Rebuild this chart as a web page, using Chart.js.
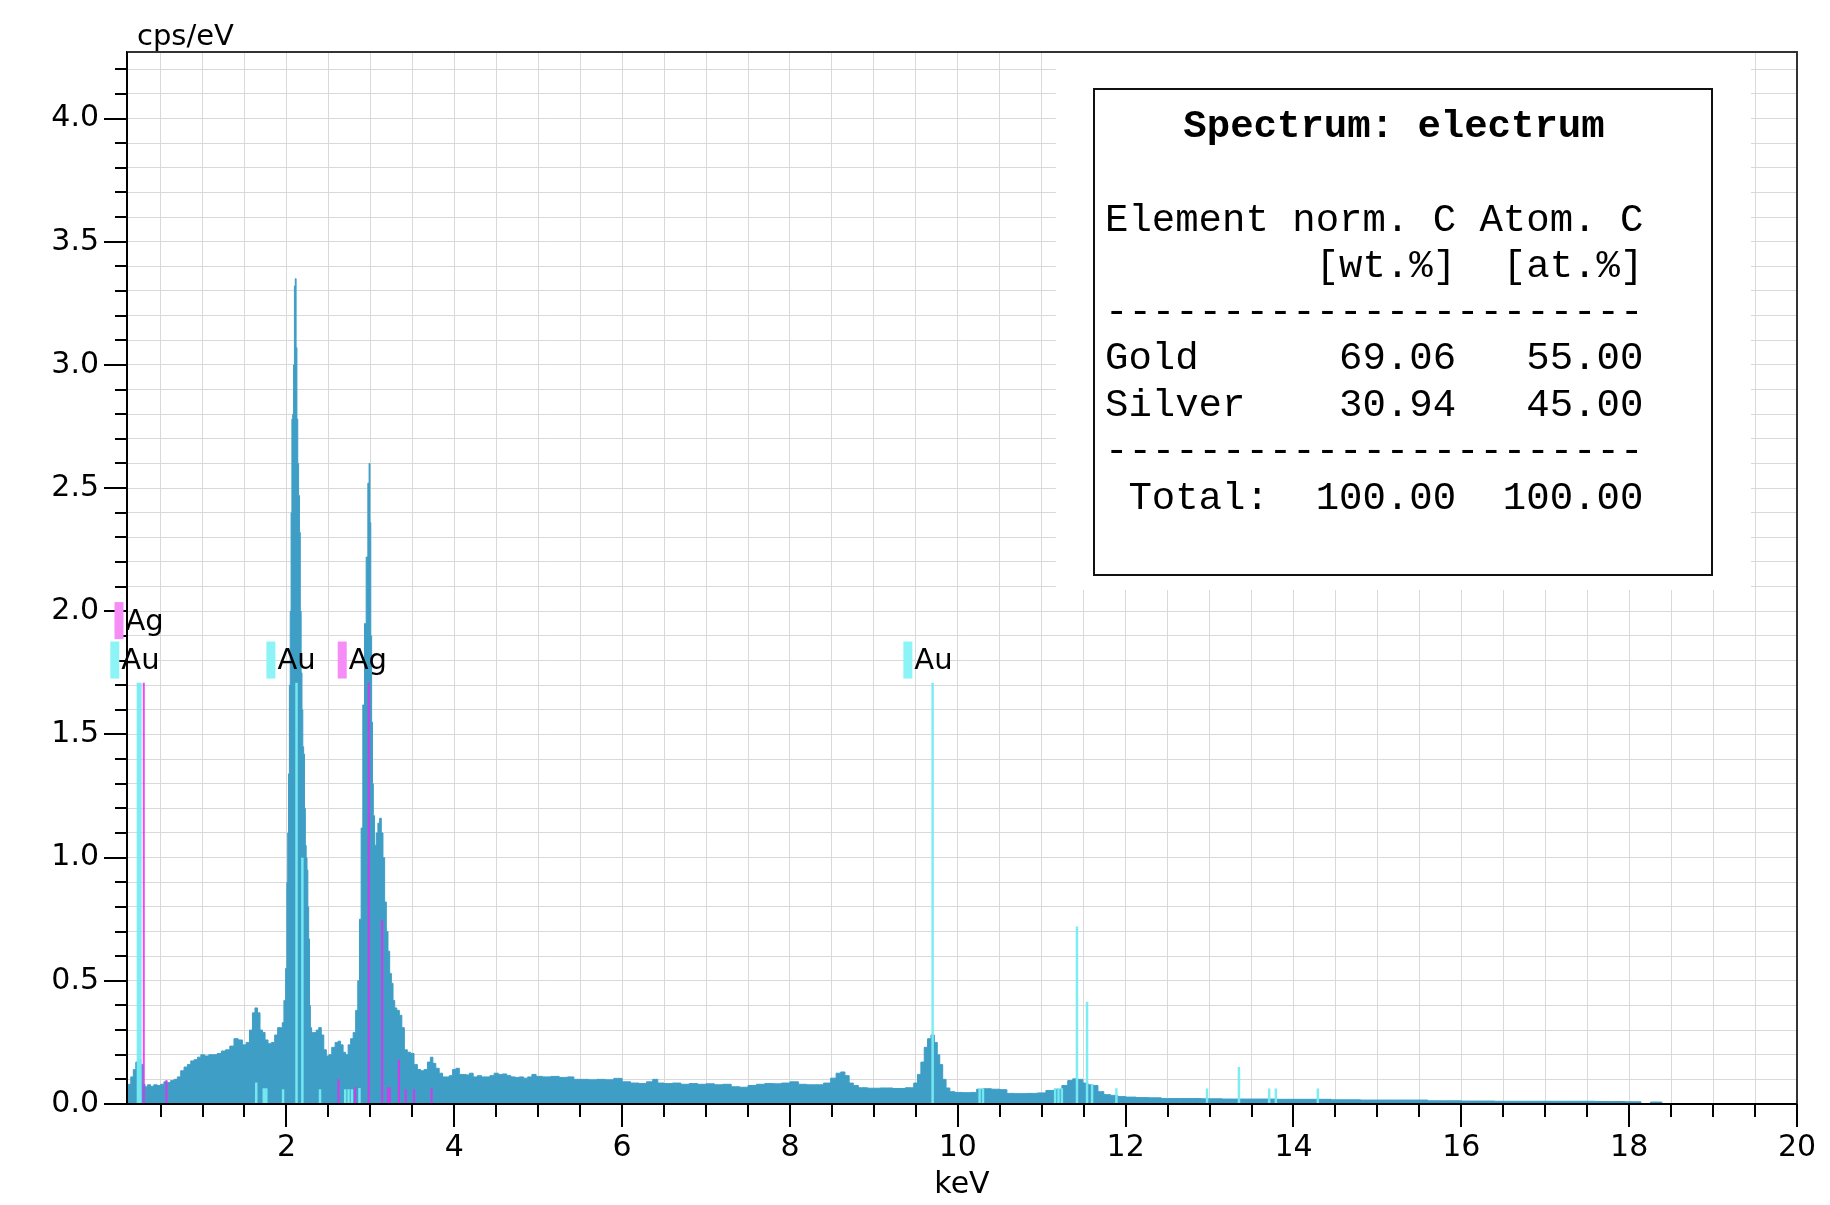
<!DOCTYPE html>
<html>
<head>
<meta charset="utf-8">
<script src="https://cdn.jsdelivr.net/npm/chart.js@4.4.1/dist/chart.umd.min.js"></script>
<style>
html,body{margin:0;padding:0;background:#ffffff;}
canvas{display:block;}
</style>
</head>
<body>
<canvas id="chart" width="1830" height="1205"></canvas>
<script>
// ---------------- DATA ----------------
const energyKeV = [
 0.10,0.13,0.16,0.19,0.22,0.25,0.28,0.30,0.33,0.36,0.40,0.44,0.48,0.52,0.56,0.60,0.64,0.68,0.72,0.76,
 0.80,0.84,0.88,0.92,0.96,1.00,1.05,1.10,1.15,1.20,1.25,1.30,1.35,1.40,1.45,1.50,1.54,1.58,1.61,1.64,
 1.67,1.70,1.73,1.76,1.80,1.84,1.88,1.91,1.94,1.96,1.98,2.00,2.01,2.02,2.03,2.04,2.05,2.06,2.07,2.08,
 2.09,2.10,2.11,2.12,2.13,2.14,2.15,2.16,2.17,2.18,2.19,2.20,2.21,2.22,2.23,2.24,2.25,2.26,2.27,2.28,
 2.29,2.31,2.34,2.37,2.40,2.43,2.46,2.49,2.52,2.56,2.60,2.63,2.66,2.69,2.72,2.75,2.78,2.81,2.84,2.86,
 2.88,2.90,2.92,2.94,2.96,2.98,2.99,3.00,3.01,3.02,3.03,3.04,3.06,3.08,3.10,3.12,3.14,3.16,3.18,3.20,
 3.22,3.24,3.26,3.28,3.30,3.33,3.36,3.39,3.42,3.46,3.50,3.54,3.58,3.62,3.66,3.70,3.73,3.76,3.80,3.84,
 3.88,3.92,3.96,4.00,4.04,4.08,4.12,4.16,4.20,4.25,4.30,4.35,4.40,4.45,4.50,4.55,4.60,4.65,4.70,4.75,
 4.80,4.85,4.90,4.95,5.00,5.10,5.20,5.30,5.40,5.45,5.55,5.65,5.75,5.85,5.95,6.05,6.15,6.25,6.33,6.40,
 6.45,6.55,6.65,6.75,6.85,6.95,7.05,7.15,7.25,7.35,7.45,7.55,7.65,7.75,7.85,7.95,8.05,8.15,8.25,8.35,
 8.45,8.52,8.58,8.63,8.68,8.73,8.78,8.85,9.00,9.15,9.30,9.45,9.50,9.54,9.58,9.62,9.66,9.70,9.74,9.77,
 9.80,9.84,9.88,9.93,10.00,10.10,10.20,10.25,10.35,10.45,10.55,10.62,10.75,10.90,11.00,11.10,11.20,11.28,11.34,11.40,
 11.46,11.52,11.58,11.64,11.70,11.78,11.86,11.95,12.05,12.20,12.35,12.50,12.80,13.00,13.30,13.60,14.00,14.30,14.60,15.00,
 15.40,15.80,16.20,16.60,17.00,17.40,17.80,18.10,18.18,18.33,18.37,18.41
];
const countsCps = [
 0.075,0.080,0.110,0.140,0.170,0.180,0.160,0.080,0.070,0.078,0.072,0.078,0.075,0.080,0.090,0.087,0.095,0.100,0.110,0.135,
 0.150,0.160,0.175,0.180,0.190,0.200,0.195,0.200,0.200,0.205,0.215,0.220,0.235,0.265,0.260,0.240,0.250,0.300,0.370,0.390,
 0.370,0.300,0.290,0.260,0.245,0.250,0.280,0.310,0.310,0.330,0.420,0.550,0.900,1.100,1.340,1.700,2.000,2.400,2.780,2.800,
 3.000,3.320,3.350,3.070,2.780,2.600,2.470,2.320,2.000,1.750,1.600,1.450,1.420,1.200,1.050,1.000,0.950,0.800,0.670,0.400,
 0.310,0.290,0.290,0.300,0.310,0.280,0.220,0.195,0.200,0.230,0.250,0.255,0.240,0.210,0.200,0.240,0.265,0.290,0.380,0.500,
 0.750,1.120,1.620,1.950,2.220,2.520,2.600,2.360,1.900,1.550,1.300,1.170,1.050,1.100,1.140,1.160,1.100,1.000,0.820,0.700,
 0.620,0.530,0.490,0.420,0.390,0.380,0.360,0.310,0.220,0.210,0.205,0.160,0.140,0.135,0.140,0.170,0.190,0.165,0.145,0.125,
 0.110,0.110,0.115,0.140,0.145,0.120,0.120,0.118,0.125,0.110,0.115,0.110,0.110,0.115,0.125,0.120,0.122,0.115,0.110,0.108,
 0.110,0.105,0.110,0.120,0.112,0.110,0.112,0.108,0.110,0.100,0.100,0.098,0.100,0.098,0.104,0.090,0.085,0.083,0.090,0.100,
 0.085,0.083,0.085,0.080,0.083,0.080,0.082,0.078,0.080,0.070,0.068,0.075,0.080,0.083,0.082,0.085,0.090,0.080,0.078,0.078,
 0.085,0.105,0.125,0.130,0.115,0.085,0.075,0.066,0.064,0.065,0.063,0.066,0.085,0.120,0.170,0.230,0.265,0.280,0.250,0.200,
 0.160,0.100,0.065,0.050,0.047,0.046,0.047,0.060,0.062,0.060,0.058,0.043,0.042,0.043,0.045,0.055,0.060,0.075,0.095,0.102,
 0.100,0.085,0.078,0.075,0.050,0.038,0.035,0.030,0.028,0.026,0.025,0.022,0.022,0.021,0.020,0.020,0.019,0.019,0.017,0.016,
 0.016,0.013,0.012,0.011,0.011,0.011,0.010,0.009,0.000,0.008,0.008,0.000
];

// element line markers (vertical lines)
const auLineKeV = [2.12, 9.70, 1.64, 1.73, 1.76, 1.96, 2.19, 2.40, 2.70, 2.74, 2.78, 2.87, 10.26, 10.30, 11.16, 11.20, 11.24, 11.42, 11.54, 11.60, 11.89, 12.97, 13.35, 13.71, 13.79, 14.29];
const auLineCps = [1.71, 1.71, 0.087, 0.064, 0.064, 0.060, 1.00, 0.060, 0.060, 0.060, 0.060, 0.065, 0.064, 0.064, 0.064, 0.064, 0.064, 0.720, 0.415, 0.080, 0.064, 0.063, 0.150, 0.063, 0.063, 0.063];
const agLineKeV = [0.30, 2.98, 0.57, 2.62, 2.82, 3.14, 3.21, 3.23, 3.34, 3.42, 3.52, 3.73];
const agLineCps = [1.71, 1.71, 0.097, 0.100, 0.068, 0.746, 0.068, 0.068, 0.180, 0.060, 0.060, 0.064];
const auLowLineKeV = [0.245];
const auLowLineCps = [1.71];

// element labels
const markerElements = ['Ag', 'Au', 'Au', 'Ag', 'Au'];
const markerKeV      = [0.31, 0.26, 2.12, 2.97, 9.71];
const markerLevel    = [1.96, 1.80, 1.80, 1.80, 1.80];

// axis tick labels
const xLabelValues = [2, 4, 6, 8, 10, 12, 14, 16, 18, 20];
const xTickLabels  = ['2', '4', '6', '8', '10', '12', '14', '16', '18', '20'];
const yLabelValues = [0, 0.5, 1.0, 1.5, 2.0, 2.5, 3.0, 3.5, 4.0];
const yTickLabels  = ['0.0', '0.5', '1.0', '1.5', '2.0', '2.5', '3.0', '3.5', '4.0'];

// result table
const tableTitle = 'Spectrum: electrum';
const tableLines = [
  'Element norm. C Atom. C',
  '         [wt.%]  [at.%]',
  '-----------------------',
  'Gold      69.06   55.00',
  'Silver    30.94   45.00',
  '-----------------------',
  ' Total:  100.00  100.00'
];

// ---------------- BUILD ----------------
const xTickValues = [];
for (let i = 1; i <= 40; i++) xTickValues.push(i / 2);
const yTickValues = [];
for (let i = 0; i <= 42; i++) yTickValues.push(i / 10);
const near = (a, b) => Math.abs(a - b) < 1e-6;

const spectrum = energyKeV.map((e, i) => ({ x: e, y: countsCps[i] }));
function segments(es, hs) {
  const out = [];
  es.forEach((e, i) => { out.push({ x: e, y: 0 }, { x: e, y: hs[i] }, { x: e, y: null }); });
  return out;
}

const STYLE = {
  fill: '#3e9ec6',
  cyan: 'rgba(118,236,242,0.95)',
  magenta: 'rgba(238,40,238,0.85)',
  cyanBox: 'rgb(140,244,246)',
  magentaBox: 'rgb(246,140,246)',
  grid: '#d9d9d9'
};

const overlay = {
  id: 'overlay',
  beforeDatasetsDraw(chart) {
    const { ctx } = chart;
    ctx.save();
    ctx.fillStyle = '#ffffff';
    ctx.fillRect(1056, chart.chartArea.top + 1, 695, 537);
    ctx.restore();
  },
  afterDraw(chart) {
    const { ctx, chartArea: a, scales: { x, y } } = chart;
    ctx.save();
    // frame
    ctx.lineWidth = 2;
    ctx.strokeStyle = '#333333';
    ctx.beginPath();
    ctx.moveTo(a.left, a.top); ctx.lineTo(a.right, a.top); ctx.lineTo(a.right, a.bottom);
    ctx.stroke();
    ctx.strokeStyle = '#000000';
    ctx.beginPath();
    ctx.moveTo(a.left, a.top); ctx.lineTo(a.left, a.bottom); ctx.lineTo(a.right, a.bottom);
    ctx.stroke();
    // tick marks
    ctx.lineWidth = 2;
    ctx.beginPath();
    xTickValues.forEach(v => {
      const px = Math.round(x.getPixelForValue(v));
      const len = xLabelValues.some(l => near(l, v)) ? 23 : 13;
      ctx.moveTo(px, a.bottom); ctx.lineTo(px, a.bottom + len);
    });
    yTickValues.forEach(v => {
      const py = Math.round(y.getPixelForValue(v));
      const len = yLabelValues.some(l => near(l, v)) ? 23 : 12;
      ctx.moveTo(a.left - len, py); ctx.lineTo(a.left, py);
    });
    ctx.stroke();

    // element labels
    ctx.font = '29px "DejaVu Sans"';
    ctx.textBaseline = 'middle';
    ctx.textAlign = 'left';
    markerElements.forEach((el, i) => {
      const cx = x.getPixelForValue(markerKeV[i]);
      const cy = y.getPixelForValue(markerLevel[i]);
      const w = ctx.measureText(el).width;
      const tl = cx - w / 2;
      ctx.fillStyle = el === 'Au' ? STYLE.cyanBox : STYLE.magentaBox;
      ctx.fillRect(tl - 11, cy - 19, 9, 37);
      ctx.fillStyle = '#000000';
      ctx.fillText(el, tl, cy + 1);
    });

    // unit label
    ctx.font = '29px "DejaVu Sans"';
    ctx.textBaseline = 'alphabetic';
    ctx.fillStyle = '#000000';
    ctx.fillText('cps/eV', 137, 45);

    // result table
    ctx.fillStyle = '#ffffff';
    ctx.fillRect(1094, 89, 618, 486);
    ctx.strokeStyle = '#111111';
    ctx.lineWidth = 2;
    ctx.strokeRect(1094, 89, 618, 486);
    ctx.fillStyle = '#000000';
    ctx.textBaseline = 'middle';
    ctx.textAlign = 'center';
    ctx.font = 'bold 39px "Liberation Mono"';
    ctx.fillText(tableTitle, 1394, 127);
    ctx.textAlign = 'left';
    ctx.font = '39px "Liberation Mono"';
    const rowY = [221, 267, 313, 359, 406, 452, 499];
    tableLines.forEach((t, i) => ctx.fillText(t, 1105, rowY[i]));
    ctx.restore();
  }
};

Chart.defaults.font.family = '"DejaVu Sans"';
Chart.defaults.color = '#000000';

new Chart(document.getElementById('chart'), {
  type: 'scatter',
  data: {
    datasets: [
      { label: 'Au lines', data: segments(auLineKeV, auLineCps), showLine: true, borderColor: STYLE.cyan, borderWidth: 2.5, pointRadius: 0, order: 1, spanGaps: false },
      { label: 'Au low', data: segments(auLowLineKeV, auLowLineCps), showLine: true, borderColor: STYLE.cyan, borderWidth: 5, pointRadius: 0, order: 1, spanGaps: false },
      { label: 'Ag lines', data: segments(agLineKeV, agLineCps), showLine: true, borderColor: STYLE.magenta, borderWidth: 2, pointRadius: 0, order: 0, spanGaps: false },
      { label: 'spectrum', data: spectrum, showLine: true, stepped: 'middle', fill: 'origin', backgroundColor: STYLE.fill, borderColor: STYLE.fill, borderWidth: 1, pointRadius: 0, order: 5 }
    ]
  },
  options: {
    responsive: false,
    devicePixelRatio: 1,
    animation: false,
    layout: { padding: { top: 52, right: 33, left: 0, bottom: 0 } },
    plugins: { legend: { display: false }, tooltip: { enabled: false } },
    scales: {
      x: {
        type: 'linear', min: 0.1, max: 20,
        afterBuildTicks: s => { s.ticks = xTickValues.map(v => ({ value: v })); },
        afterFit: s => { s.height = 101; s.paddingLeft = 0; s.paddingRight = 0; },
        grid: { color: STYLE.grid, lineWidth: 1, drawTicks: false },
        border: { display: true, color: '#000000', width: 2 },
        ticks: {
          autoSkip: false, maxRotation: 0, minRotation: 0, padding: 26,
          font: { size: 30 }, color: '#000000',
          callback: v => { const i = xLabelValues.findIndex(l => near(l, v)); return i >= 0 ? xTickLabels[i] : ''; }
        },
        title: { display: true, text: 'keV', color: '#000000', font: { size: 30 }, padding: { top: 0, bottom: 2 } }
      },
      y: {
        type: 'linear', min: 0, max: 4.27,
        afterBuildTicks: s => { s.ticks = yTickValues.map(v => ({ value: v })); },
        afterFit: s => { s.width = 127; s.paddingTop = 0; s.paddingBottom = 0; },
        grid: { color: STYLE.grid, lineWidth: 1, drawTicks: false },
        border: { display: true, color: '#000000', width: 2 },
        ticks: {
          autoSkip: false, padding: 28,
          font: { size: 30 }, color: '#000000',
          callback: v => { const i = yLabelValues.findIndex(l => near(l, v)); return i >= 0 ? yTickLabels[i] : ''; }
        }
      }
    }
  },
  plugins: [overlay]
});
</script>
</body>
</html>
